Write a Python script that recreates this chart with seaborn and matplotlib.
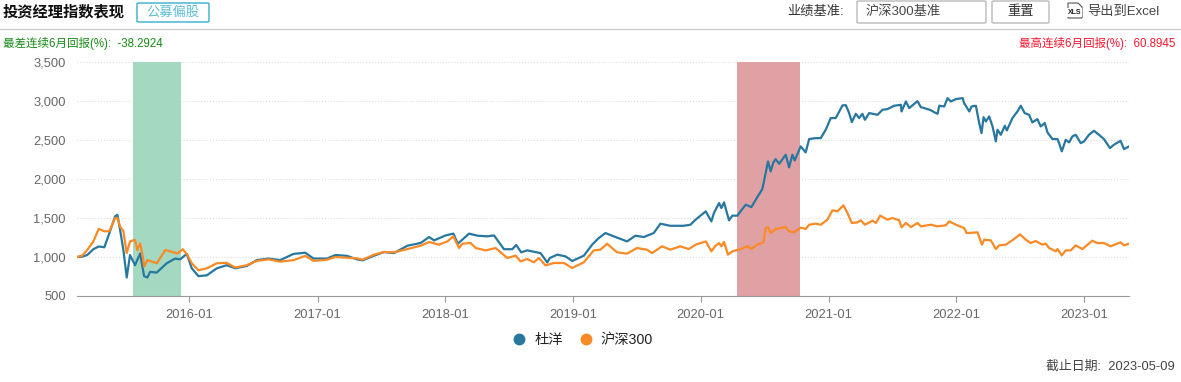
import matplotlib.pyplot as plt
from matplotlib.lines import Line2D
from matplotlib.patches import FancyBboxPatch, Polygon
import matplotlib.ticker as mticker
import numpy as np
import pandas as pd
import seaborn as sns

W, H = 1181, 382

blue_years = [2015.12, 2015.16, 2015.20, 2015.248, 2015.29, 2015.334, 2015.373, 2015.418, 2015.436, 2015.457, 2015.483,
              2015.509, 2015.535, 2015.574, 2015.614, 2015.645, 2015.671, 2015.692, 2015.744, 2015.822, 2015.888,
              2015.927, 2015.979, 2016.018, 2016.07, 2016.136, 2016.214, 2016.292, 2016.358, 2016.449, 2016.527,
              2016.619, 2016.71, 2016.815, 2016.906, 2016.971, 2017.076, 2017.141, 2017.232, 2017.311, 2017.354,
              2017.445, 2017.523, 2017.60, 2017.706, 2017.81, 2017.875, 2017.914, 2018.005, 2018.065, 2018.10,
              2018.188, 2018.253, 2018.331, 2018.383, 2018.461, 2018.526, 2018.557, 2018.596, 2018.643, 2018.747,
              2018.80, 2018.82, 2018.878, 2018.943, 2018.995, 2019.086, 2019.151, 2019.203, 2019.255, 2019.32,
              2019.424, 2019.49, 2019.555, 2019.633, 2019.685, 2019.763, 2019.867, 2019.92, 2019.96, 2020.04,
              2020.084, 2020.104, 2020.144, 2020.162, 2020.183, 2020.222, 2020.248, 2020.287, 2020.352, 2020.397,
              2020.444, 2020.483, 2020.509, 2020.527, 2020.548, 2020.567, 2020.587, 2020.614, 2020.666, 2020.692,
              2020.718, 2020.736, 2020.783, 2020.822, 2020.849, 2020.901, 2020.94, 2020.979, 2021.018, 2021.057,
              2021.11, 2021.136, 2021.162, 2021.183, 2021.214, 2021.24, 2021.266, 2021.285, 2021.319, 2021.384,
              2021.423, 2021.462, 2021.514, 2021.567, 2021.572, 2021.606, 2021.632, 2021.697, 2021.723, 2021.794,
              2021.841, 2021.854, 2021.867, 2021.906, 2021.932, 2021.958, 2021.997, 2022.05, 2022.062, 2022.102,
              2022.12, 2022.154, 2022.18, 2022.198, 2022.214, 2022.232, 2022.258, 2022.284, 2022.31, 2022.323,
              2022.349, 2022.38, 2022.396, 2022.44, 2022.479, 2022.505, 2022.536, 2022.57, 2022.596, 2022.635,
              2022.661, 2022.693, 2022.714, 2022.753, 2022.792, 2022.805, 2022.826, 2022.857, 2022.883, 2022.909,
              2022.935, 2022.974, 2023.0, 2023.039, 2023.078, 2023.117, 2023.156, 2023.203, 2023.234, 2023.286,
              2023.313, 2023.352]
blue_values = [1000, 1005, 1025, 1100, 1135, 1125, 1305, 1520, 1540, 1350, 1090,
               737, 1025, 895, 1045, 755, 737, 810, 800, 920, 980,
               970, 1040, 855, 755, 765, 855, 895, 855, 885, 960,
               980, 960, 1040, 1055, 980, 980, 1025, 1015, 970, 957,
               1017, 1064, 1050, 1145, 1180, 1256, 1213, 1277, 1300, 1170,
               1300, 1273, 1265, 1277, 1100, 1100, 1154, 1060, 1085, 1050,
               930, 987, 1030, 1008, 949, 1017, 1158, 1243, 1307, 1265,
               1200, 1273, 1256, 1307, 1427, 1400, 1400, 1414, 1478, 1585,
               1457, 1564, 1692, 1628, 1700, 1470, 1530, 1530, 1670, 1640,
               1769, 1871, 2076, 2225, 2097, 2204, 2255, 2195, 2311, 2149,
               2311, 2238, 2418, 2341, 2512, 2524, 2524, 2631, 2781, 2781,
               2943, 2947, 2845, 2729, 2836, 2781, 2836, 2759, 2845, 2823,
               2887, 2896, 2939, 2951, 2866, 2994, 2909, 2998, 2922, 2887,
               2845, 2836, 2939, 2930, 3037, 2994, 3024, 3037, 2973, 2866,
               2930, 2939, 2717, 2588, 2793, 2738, 2802, 2674, 2482, 2631,
               2567, 2682, 2623, 2781, 2866, 2939, 2845, 2823, 2725, 2768,
               2674, 2717, 2597, 2512, 2512, 2460, 2354, 2503, 2469, 2546,
               2567, 2460, 2482, 2567, 2618, 2567, 2512, 2396, 2439, 2490,
               2383, 2418]

orange_years = [2015.12, 2015.16, 2015.20, 2015.248, 2015.29, 2015.334, 2015.373, 2015.418, 2015.436, 2015.457, 2015.483,
                2015.509, 2015.535, 2015.574, 2015.592, 2015.614, 2015.635, 2015.645, 2015.671, 2015.744, 2015.812,
                2015.907, 2015.948, 2015.984, 2016.018, 2016.07, 2016.136, 2016.214, 2016.292, 2016.358, 2016.449,
                2016.527, 2016.619, 2016.71, 2016.815, 2016.906, 2016.971, 2017.076, 2017.141, 2017.232, 2017.311,
                2017.354, 2017.445, 2017.523, 2017.60, 2017.706, 2017.81, 2017.875, 2017.953, 2018.018, 2018.065,
                2018.109, 2018.135, 2018.2, 2018.24, 2018.318, 2018.396, 2018.487, 2018.552, 2018.591, 2018.643,
                2018.695, 2018.734, 2018.786, 2018.851, 2018.93, 2018.995, 2019.086, 2019.164, 2019.216, 2019.268,
                2019.346, 2019.424, 2019.502, 2019.58, 2019.62, 2019.698, 2019.763, 2019.841, 2019.906, 2019.92,
                2019.96, 2020.04, 2020.084, 2020.117, 2020.144, 2020.162, 2020.183, 2020.214, 2020.248, 2020.313,
                2020.366, 2020.397, 2020.444, 2020.491, 2020.509, 2020.527, 2020.548, 2020.587, 2020.666, 2020.692,
                2020.731, 2020.783, 2020.822, 2020.849, 2020.901, 2020.94, 2020.992, 2021.031, 2021.07, 2021.117,
                2021.149, 2021.183, 2021.227, 2021.253, 2021.285, 2021.345, 2021.371, 2021.405, 2021.462, 2021.501,
                2021.554, 2021.572, 2021.606, 2021.645, 2021.697, 2021.723, 2021.802, 2021.854, 2021.919, 2021.945,
                2021.997, 2022.062, 2022.081, 2022.167, 2022.201, 2022.219, 2022.271, 2022.31, 2022.336, 2022.388,
                2022.453, 2022.5, 2022.544, 2022.583, 2022.622, 2022.674, 2022.70, 2022.727, 2022.779, 2022.792,
                2022.826, 2022.857, 2022.896, 2022.935, 2022.987, 2023.065, 2023.104, 2023.156, 2023.208, 2023.286,
                2023.313, 2023.352]
orange_values = [1000, 1017, 1090, 1200, 1360, 1330, 1330, 1500, 1500, 1390, 1330,
                 1050, 1200, 1220, 1090, 1175, 1005, 875, 960, 920, 1090,
                 1045, 1100, 1025, 920, 830, 855, 920, 925, 865, 895,
                 950, 970, 940, 960, 1015, 950, 965, 1000, 990, 983,
                 966, 1030, 1064, 1060, 1102, 1145, 1192, 1158, 1200, 1265,
                 1115, 1170, 1180, 1115, 1085, 1115, 987, 1017, 944, 974,
                 932, 987, 893, 923, 923, 859, 932, 1085, 1094, 1170,
                 1060, 1043, 1115, 1094, 1050, 1137, 1094, 1137, 1102, 1115,
                 1158, 1200, 1073, 1145, 1179, 1137, 1192, 1030, 1073, 1102,
                 1137, 1102, 1158, 1188, 1371, 1384, 1307, 1359, 1384, 1329,
                 1316, 1376, 1359, 1414, 1427, 1414, 1478, 1598, 1585, 1662,
                 1564, 1436, 1444, 1470, 1414, 1465, 1436, 1530, 1478, 1500,
                 1470, 1380, 1436, 1384, 1436, 1393, 1414, 1393, 1406, 1457,
                 1414, 1371, 1307, 1316, 1158, 1222, 1213, 1102, 1149, 1158,
                 1231, 1290, 1222, 1179, 1205, 1158, 1171, 1115, 1073, 1102,
                 1021, 1085, 1085, 1149, 1102, 1209, 1179, 1179, 1137, 1188,
                 1149, 1171]

worst_period = [2015.558, 2015.935]
best_period = [2020.282, 2020.775]
y_ticks = [500, 1000, 1500, 2000, 2500, 3000, 3500]
x_tick_labels = ["2016-01", "2017-01", "2018-01", "2019-01", "2020-01", "2021-01", "2022-01", "2023-01"]


def to_date(years):
    return pd.Timestamp("2016-01-01") + pd.to_timedelta((np.array(years) - 2016) * 365.25, unit="D")


def fx(x):
    return x / W


def fy(y):
    return 1 - y / H


plt.rcParams["font.family"] = ["Liberation Sans", "Noto Sans CJK SC"]

df = pd.concat([
    pd.DataFrame({"date": to_date(blue_years), "value": blue_values, "name": "杜洋"}),
    pd.DataFrame({"date": to_date(orange_years), "value": orange_values, "name": "沪深300"}),
])

fig = plt.figure(figsize=(W / 100, H / 100), dpi=100)
ax = fig.add_axes([fx(77), fy(296), fx(1129) - fx(77), fy(62) - fy(296)])

ax.axvspan(*to_date(worst_period), color="#a5d8c0", lw=0, zorder=1)
ax.axvspan(*to_date(best_period), color="#e0a1a5", lw=0, zorder=1)

sns.lineplot(data=df, x="date", y="value", hue="name", palette=["#27779f", "#f98a25"], estimator=None, sort=False,
             linewidth=1.6, ax=ax, legend=False, zorder=3)

ax.set_xlim(to_date([2015.12])[0], to_date([2023.352])[0])
ax.set_ylim(500, 3500)
ax.set_xlabel("")
ax.set_ylabel("")
ax.set_yticks(y_ticks)
ax.yaxis.set_major_formatter(mticker.StrMethodFormatter("{x:,.0f}"))
ax.set_xticks(pd.to_datetime(x_tick_labels))
ax.set_xticklabels(x_tick_labels)
ax.tick_params(axis="y", length=0, labelsize=9.3, labelcolor="#666666", pad=8)
ax.tick_params(axis="x", length=4, width=0.8, color="#999999", labelsize=9.3, labelcolor="#666666", pad=5)
ax.grid(axis="y", linestyle=":", color="#dddddd", linewidth=0.8)
ax.set_axisbelow(True)
for side in ["top", "right", "left"]:
    ax.spines[side].set_visible(False)
ax.spines["bottom"].set_color("#999999")

handles = [Line2D([], [], marker="o", linestyle="", markersize=7.5, color=c) for c in ["#27779f", "#f98a25"]]
fig.legend(handles, ["杜洋", "沪深300"], loc="center", bbox_to_anchor=(fx(579), fy(340)), ncol=2, frameon=False,
           fontsize=10.3, handletextpad=0.05, columnspacing=0.6, labelcolor="#222222")

# page furniture above the chart
fig.add_artist(Line2D([0, 1], [fy(29), fy(29)], color="#cccccc", linewidth=1))
fig.text(fx(3), fy(12), "投资经理指数表现", fontsize=11, fontweight="bold", color="#111111", va="center")
fig.add_artist(FancyBboxPatch((fx(137), fy(22)), fx(72), fy(3) - fy(22), boxstyle="round,pad=0,rounding_size=0.002",
                              transform=fig.transFigure, fc="white", ec="#35aecb", lw=1))
fig.text(fx(173), fy(12.5), "公募偏股", fontsize=9.5, color="#35aecb", alpha=0.8, ha="center", va="center")

fig.text(fx(787), fy(12), "业绩基准:", fontsize=9.5, color="#333333", va="center")
fig.add_artist(FancyBboxPatch((fx(857), fy(23)), fx(129), fy(1) - fy(23), boxstyle="round,pad=0,rounding_size=0.002",
                              transform=fig.transFigure, fc="white", ec="#bbbbbb", lw=1))
fig.text(fx(866), fy(12), "沪深300基准", fontsize=9.5, color="#444444", va="center")
fig.add_artist(FancyBboxPatch((fx(992), fy(23)), fx(57), fy(1) - fy(23), boxstyle="round,pad=0,rounding_size=0.002",
                              transform=fig.transFigure, fc="white", ec="#bbbbbb", lw=1))
fig.text(fx(1021), fy(12), "重置", fontsize=9.5, color="#333333", ha="center", va="center")
fig.add_artist(Polygon([(fx(1068), fy(3)), (fx(1078), fy(3)), (fx(1082), fy(7)), (fx(1082), fy(18)), (fx(1068), fy(18))],
                       closed=True, transform=fig.transFigure, fc="white", ec="#555555", lw=0.8))
fig.text(fx(1074.5), fy(12.5), "XLS", fontsize=5, fontweight="bold", color="#222222", ha="center", va="center",
         bbox=dict(fc="white", ec="none", pad=0.4))
fig.text(fx(1087), fy(12), "导出到Excel", fontsize=9.5, color="#444444", va="center")

fig.text(fx(3), fy(43), "最差连续6月回报(%):  -38.2924", fontsize=8.3, color="#158a15", va="center")
fig.text(fx(1175), fy(43), "最高连续6月回报(%):  60.8945", fontsize=8.3, color="#f5142d", ha="right", va="center")
fig.text(fx(1175), fy(367), "截止日期:  2023-05-09", fontsize=9.3, color="#444444", ha="right", va="center")

plt.savefig("out.png", dpi=100)
